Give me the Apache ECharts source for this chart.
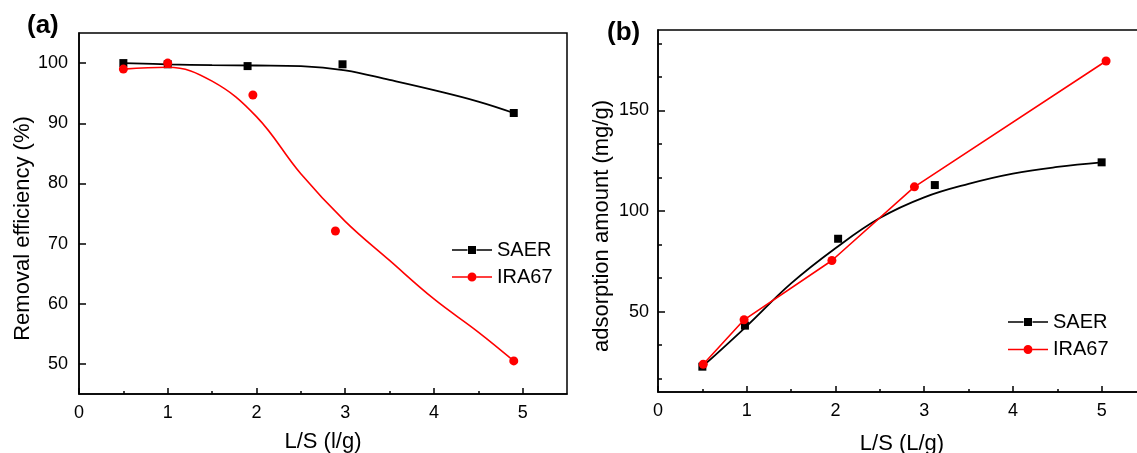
<!DOCTYPE html>
<html>
<head>
<meta charset="utf-8">
<script src="https://cdn.jsdelivr.net/npm/echarts@6/dist/echarts.min.js"></script>
<style>html,body{margin:0;padding:0;background:#fff}#c{width:1137px;height:453px}</style>
</head>
<body>
<div id="c"></div>
<script>
// ---- Panel (a): removal efficiency ----
const aSaerX = [0.5, 1.0, 1.9, 2.97, 4.9];
const aSaerY = [100.0, 99.8, 99.5, 99.8, 91.7];
const aIraX = [0.5, 1.0, 1.96, 2.89, 4.9];
const aIraY = [99.0, 100.0, 94.7, 72.1, 50.5];
// fitted curves
const aSaerFitX = [0.5, 1.0, 1.5, 2.0, 2.5, 3.0, 3.5, 4.0, 4.5, 4.9];
const aSaerFitY = [100.0, 99.8, 99.65, 99.6, 99.5, 98.8, 97.2, 95.5, 93.6, 91.7];
const aIraFitX = [0.5, 1.0, 1.5, 2.0, 2.5, 3.0, 3.5, 4.0, 4.5, 4.9];
const aIraFitY = [99.0, 99.3, 97.0, 91.1, 81.6, 73.7, 67.2, 60.8, 55.3, 50.5];

// ---- Panel (b): adsorption amount ----
const bSaerX = [0.5, 0.98, 2.03, 3.12, 5.0];
const bSaerY = [22.6, 43.0, 86.2, 112.9, 124.2];
const bIraX = [0.51, 0.97, 1.96, 2.89, 5.05];
const bIraY = [23.8, 45.9, 75.4, 112.0, 174.6];
const bSaerFitX = [0.5, 1.0, 1.5, 2.0, 2.5, 3.0, 3.5, 4.0, 4.5, 5.0];
const bSaerFitY = [22.6, 42.8, 64.0, 81.5, 96.5, 106.8, 113.5, 118.6, 121.9, 124.2];

// ---- tick labels ----
const xTickLabels = [0, 1, 2, 3, 4, 5];
const xMinorTicks = [0.5, 1.5, 2.5, 3.5, 4.5];
const effTickLabels = [50, 60, 70, 80, 90, 100];
const adsTickLabels = [50, 100, 150];
const adsMinorTicks = [16.67, 33.33, 66.67, 83.33, 116.67, 133.33, 166.67, 183.33];

const zip = (xs, ys) => xs.map((x, i) => [x, ys[i]]);
const FONT = '"Liberation Sans", Arial, sans-serif';
const BLACK = '#000000';
const RED = '#ff0000';

const sqIcon = 'path://M0,3.8H15.5V5.2H0Z M24.5,3.8H40V5.2H24.5Z M16,0.5H24V8.5H16Z';
const ciIcon = 'path://M0,3.8H15.5V5.2H0Z M24.5,3.8H40V5.2H24.5Z M15.5,4.5A4.5,4.5 0 1 1 24.5,4.5A4.5,4.5 0 1 1 15.5,4.5Z';

function mainX(gridIndex, name, nameGap) {
  return {
    type: 'value', gridIndex, min: 0, max: 5.5, position: 'bottom',
    name, nameLocation: 'middle', nameGap, nameMoveOverlap: false,
    nameTextStyle: { fontFamily: FONT, fontSize: 22, color: BLACK },
    axisLine: { show: true, onZero: false, lineStyle: { color: BLACK, width: 1.5 } },
    axisTick: { show: true, inside: true, length: 6, customValues: xTickLabels, lineStyle: { color: BLACK, width: 1.5 } },
    axisLabel: { show: true, customValues: xTickLabels, margin: 10, fontFamily: FONT, fontSize: 18, color: BLACK },
    splitLine: { show: false }
  };
}
function minorX(gridIndex) {
  return {
    type: 'value', gridIndex, min: 0, max: 5.5, position: 'bottom',
    axisLine: { show: false, onZero: false },
    axisTick: { show: true, inside: true, length: 3, customValues: xMinorTicks, lineStyle: { color: BLACK, width: 1.5 } },
    axisLabel: { show: false },
    splitLine: { show: false }
  };
}

const option = {
  animation: false,
  backgroundColor: '#ffffff',
  graphic: [
    { type: 'text', left: 27, top: 13, style: { text: '(a)', font: 'bold 26px ' + FONT, fill: BLACK } },
    { type: 'text', left: 607, top: 20, style: { text: '(b)', font: 'bold 26px ' + FONT, fill: BLACK } }
  ],
  grid: [
    { left: 79, top: 33, width: 488, height: 361, show: true, borderColor: BLACK, borderWidth: 1.5, outerBoundsMode: 'none', containLabel: false },
    { left: 658, top: 30, width: 488, height: 362, show: true, borderColor: BLACK, borderWidth: 1.5, outerBoundsMode: 'none', containLabel: false }
  ],
  legend: [
    {
      left: 452, top: 240, orient: 'vertical', itemWidth: 40, itemHeight: 9, itemGap: 7, padding: 0,
      selectedMode: false,
      textStyle: { fontFamily: FONT, fontSize: 20, color: BLACK },
      data: [{ name: 'SAER', icon: sqIcon }, { name: 'IRA67', icon: ciIcon }]
    },
    {
      left: 1008, top: 312, orient: 'vertical', itemWidth: 40, itemHeight: 9, itemGap: 7.5, padding: 0,
      selectedMode: false,
      textStyle: { fontFamily: FONT, fontSize: 20, color: BLACK },
      data: [{ name: 'SAER', icon: sqIcon }, { name: 'IRA67', icon: ciIcon }]
    }
  ],
  xAxis: [
    mainX(0, 'L/S (l/g)', 37),
    minorX(0),
    mainX(1, 'L/S (L/g)', 41),
    minorX(1)
  ],
  yAxis: [
    {
      type: 'value', gridIndex: 0, min: 45, max: 105, position: 'left',
      name: 'Removal efficiency (%)', nameLocation: 'middle', nameGap: 45, nameMoveOverlap: false,
      nameTextStyle: { fontFamily: FONT, fontSize: 22, color: BLACK, padding: [0, 30, 0, 0] },
      axisLine: { show: true, onZero: false, lineStyle: { color: BLACK, width: 1.5 } },
      axisTick: { show: true, inside: true, length: 7, customValues: effTickLabels, lineStyle: { color: BLACK, width: 1.5 } },
      axisLabel: { show: true, customValues: effTickLabels, margin: 11, fontFamily: FONT, fontSize: 18, color: BLACK },
      splitLine: { show: false }
    },
    {
      type: 'value', gridIndex: 1, min: 10, max: 190, position: 'left',
      name: 'adsorption amount (mg/g)', nameLocation: 'middle', nameGap: 45, nameMoveOverlap: false,
      nameTextStyle: { fontFamily: FONT, fontSize: 22, color: BLACK, padding: [0, 30, 0, 0] },
      axisLine: { show: true, onZero: false, lineStyle: { color: BLACK, width: 1.5 } },
      axisTick: { show: true, inside: true, length: 7, customValues: adsTickLabels, lineStyle: { color: BLACK, width: 1.5 } },
      axisLabel: { show: true, customValues: adsTickLabels, margin: 9, fontFamily: FONT, fontSize: 18, color: BLACK },
      splitLine: { show: false }
    },
    {
      type: 'value', gridIndex: 1, min: 10, max: 190, position: 'left',
      axisLine: { show: false, onZero: false },
      axisTick: { show: true, inside: true, length: 4, customValues: adsMinorTicks, lineStyle: { color: BLACK, width: 1.5 } },
      axisLabel: { show: false },
      splitLine: { show: false }
    }
  ],
  series: [
    {
      name: 'SAER fit', type: 'line', xAxisIndex: 0, yAxisIndex: 0, data: zip(aSaerFitX, aSaerFitY),
      smooth: 0.4, showSymbol: false, symbol: 'none', silent: true,
      lineStyle: { color: BLACK, width: 1.8 }, z: 2
    },
    {
      name: 'SAER', type: 'scatter', xAxisIndex: 0, yAxisIndex: 0, data: zip(aSaerX, aSaerY),
      symbol: 'rect', symbolSize: 8, itemStyle: { color: BLACK, opacity: 1 }, z: 3
    },
    {
      name: 'IRA67 fit', type: 'line', xAxisIndex: 0, yAxisIndex: 0, data: zip(aIraFitX, aIraFitY),
      smooth: 0.4, showSymbol: false, symbol: 'none', silent: true,
      lineStyle: { color: RED, width: 1.6 }, z: 4
    },
    {
      name: 'IRA67', type: 'scatter', xAxisIndex: 0, yAxisIndex: 0, data: zip(aIraX, aIraY),
      symbol: 'circle', symbolSize: 9, itemStyle: { color: RED, opacity: 1 }, z: 5
    },
    {
      name: 'SAER fit', type: 'line', xAxisIndex: 2, yAxisIndex: 1, data: zip(bSaerFitX, bSaerFitY),
      smooth: 0.4, showSymbol: false, symbol: 'none', silent: true,
      lineStyle: { color: BLACK, width: 1.8 }, z: 2
    },
    {
      name: 'SAER', type: 'scatter', xAxisIndex: 2, yAxisIndex: 1, data: zip(bSaerX, bSaerY),
      symbol: 'rect', symbolSize: 8, itemStyle: { color: BLACK, opacity: 1 }, z: 3
    },
    {
      name: 'IRA67', type: 'line', xAxisIndex: 2, yAxisIndex: 1, data: zip(bIraX, bIraY),
      smooth: false, showSymbol: true, symbol: 'circle', symbolSize: 9,
      itemStyle: { color: RED, opacity: 1 }, lineStyle: { color: RED, width: 1.6 }, z: 5
    }
  ]
};

const chart = echarts.init(document.getElementById('c'), null, { renderer: 'canvas' });
chart.setOption(option);
</script>
</body>
</html>
